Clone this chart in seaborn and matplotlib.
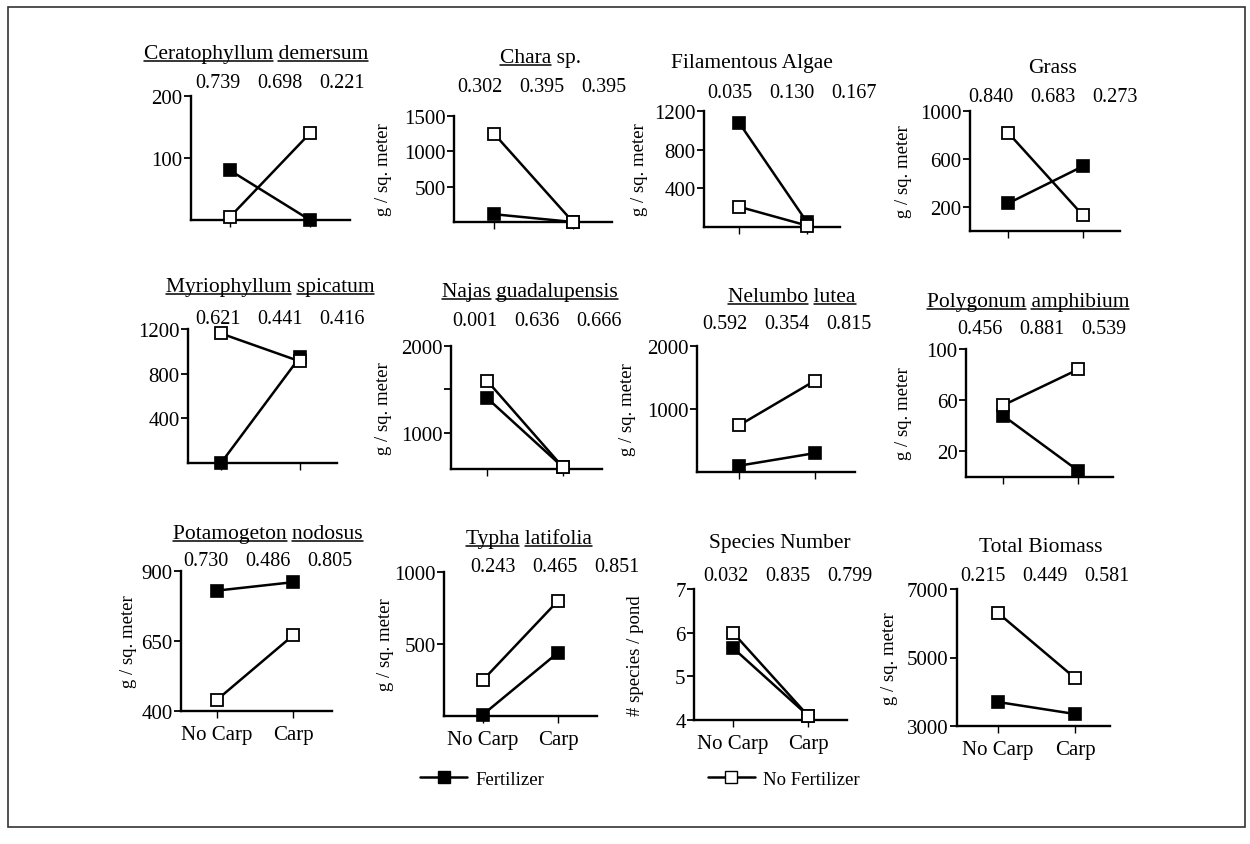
import matplotlib
matplotlib.use("Agg")
import matplotlib.pyplot as plt
import numpy as np
import pandas as pd
import seaborn as sns
from matplotlib.lines import Line2D
from matplotlib.patches import Rectangle

sns.set_theme(style="ticks")
plt.rcParams['font.family'] = ['Liberation Serif', 'DejaVu Serif']
plt.rcParams['text.color'] = 'black'
plt.rcParams['axes.labelcolor'] = 'black'

W, H = 1250, 845

# data
carp = ["No Carp", "Carp"]
titles = ["Ceratophyllum demersum", "Chara sp.", "Filamentous Algae", "Grass",
          "Myriophyllum spicatum", "Najas guadalupensis", "Nelumbo lutea", "Polygonum amphibium",
          "Potamogeton nodosus", "Typha latifolia", "Species Number", "Total Biomass"]
underlined = [["Ceratophyllum", "demersum"], ["Chara"], [], [],
              ["Myriophyllum", "spicatum"], ["Najas", "guadalupensis"], ["Nelumbo", "lutea"],
              ["Polygonum", "amphibium"], ["Potamogeton", "nodosus"], ["Typha", "latifolia"], [], []]
p_values = [["0.739", "0.698", "0.221"], ["0.302", "0.395", "0.395"], ["0.035", "0.130", "0.167"],
            ["0.840", "0.683", "0.273"], ["0.621", "0.441", "0.416"], ["0.001", "0.636", "0.666"],
            ["0.592", "0.354", "0.815"], ["0.456", "0.881", "0.539"], ["0.730", "0.486", "0.805"],
            ["0.243", "0.465", "0.851"], ["0.032", "0.835", "0.799"], ["0.215", "0.449", "0.581"]]
fertilizer = [[80, 0], [110, 0], [1080, 50], [230, 540],
              [0, 950], [1400, 600], [100, 300], [48, 5],
              [830, 860], [10, 440], [5.65, 4.1], [3700, 3350]]
no_fertilizer = [[5, 140], [1250, 0], [210, 15], [820, 130],
                 [1160, 910], [1600, 600], [740, 1450], [56, 84],
                 [440, 670], [250, 800], [6.0, 4.1], [6300, 4400]]
y_labels = [None, "g / sq. meter", "g / sq. meter", "g / sq. meter",
            None, "g / sq. meter", "g / sq. meter", "g / sq. meter",
            "g / sq. meter", "g / sq. meter", "# species / pond", "g / sq. meter"]
y_limits = [(0, 200), (0, 1500), (0, 1200), (0, 1000),
            (0, 1200), (580, 2000), (0, 2000), (0, 100),
            (400, 900), (0, 1000), (4, 7), (3000, 7000)]
y_ticks = [[100, 200], [500, 1000, 1500], [400, 800, 1200], [200, 600, 1000],
           [400, 800, 1200], [1000, 1500, 2000], [1000, 2000], [20, 60, 100],
           [400, 650, 900], [500, 1000], [4, 5, 6, 7], [3000, 5000, 7000]]
y_ticklabels = [["100", "200"], ["500", "1000", "1500"], ["400", "800", "1200"], ["200", "600", "1000"],
                ["400", "800", "1200"], ["1000", "", "2000"], ["1000", "2000"], ["20", "60", "100"],
                ["400", "650", "900"], ["500", "1000"], ["4", "5", "6", "7"], ["3000", "5000", "7000"]]

# layout in pixels: axis left, axis right, axis top, axis bottom, x of "No Carp", x of "Carp",
# title centre x / y, middle p-value centre x / y, y label centre x
layout = [
    (191, 350, 97, 221, 230, 310, 256, 52, 280, 83, None),
    (454, 612, 117, 223, 494, 573, 540, 56, 542, 87, 383),
    (704, 840, 112, 228, 739, 807, 752, 61, 792, 93, 640),
    (970, 1120, 112, 232, 1008, 1083, 1053, 66, 1053, 98, 903),
    (188, 337, 330, 464, 221, 300, 270, 285, 280, 320, None),
    (451, 602, 347, 470, 487, 563, 530, 290, 537, 321, 383),
    (697, 855, 347, 473, 739, 815, 792, 295, 787, 325, 628),
    (966, 1113, 350, 478, 1003, 1078, 1028, 300, 1042, 330, 903),
    (181, 332, 572, 712, 217, 293, 268, 532, 268, 562, 128),
    (444, 597, 573, 717, 483, 558, 529, 537, 555, 567, 385),
    (694, 847, 590, 721, 733, 808, 780, 541, 788, 577, 635),
    (957, 1110, 590, 727, 998, 1075, 1041, 545, 1045, 577, 890),
]

fig = plt.figure(figsize=(12.5, 8.45), dpi=100)
fig.patch.set_facecolor("white")
renderer = fig.canvas.get_renderer()


def text_width(s, size):
    t = fig.text(0, 0, s, fontsize=size)
    w = t.get_window_extent(renderer).width
    t.remove()
    return w


def draw_title(text, marks, x, y, size=15.5):
    base = y + 7
    t = fig.text(x / W, 1 - base / H, text, ha="center", va="baseline", fontsize=size, color="black")
    bb = t.get_window_extent(renderer)
    words = text.split(" ")
    for k, w in enumerate(words):
        if w not in marks:
            continue
        x1 = bb.x0 + text_width(" ".join(words[:k + 1]), size)
        x0 = x1 - text_width(w, size)
        yl = 1 - (base + 3) / H
        fig.add_artist(Line2D([x0 / W, x1 / W], [yl, yl], transform=fig.transFigure,
                              color="black", lw=1.1))


for i in range(12):
    left, right, top, bottom, xa, xb, tx, ty, px, py, lx = layout[i]
    ax = fig.add_axes([left / W, 1 - bottom / H, (right - left) / W, (bottom - top) / H])
    ax.set_facecolor("white")

    sns.lineplot(x=carp, y=fertilizer[i], ax=ax, color="black", marker="s", markersize=9,
                 markerfacecolor="black", markeredgecolor="black", markeredgewidth=1.2,
                 lw=1.8, clip_on=False, zorder=3)
    sns.lineplot(x=carp, y=no_fertilizer[i], ax=ax, color="black", marker="s", markersize=9,
                 markerfacecolor="white", markeredgecolor="black", markeredgewidth=1.3,
                 lw=1.8, clip_on=False, zorder=4)

    span = xb - xa
    ax.set_xlim(-(xa - left) / span, 1 + (right - xb) / span)
    ax.set_ylim(*y_limits[i])
    ax.set_xticks([0, 1])
    if i >= 8:
        ax.set_xticklabels(carp)
    else:
        ax.set_xticklabels(["", ""])
    ax.set_yticks(y_ticks[i])
    ax.set_yticklabels(y_ticklabels[i])

    sns.despine(ax=ax)
    for s in ["left", "bottom"]:
        ax.spines[s].set_linewidth(1.7)
        ax.spines[s].set_color("black")
    ax.tick_params(axis="y", direction="out", length=5, width=1.3, pad=1,
                   labelsize=15, colors="black")
    ax.tick_params(axis="x", direction="out", length=5, width=1.0, pad=5,
                   labelsize=15, colors="black")
    ax.grid(False)

    if y_labels[i]:
        ax.set_ylabel(y_labels[i], fontsize=13.5, color="black", va="center")
        ax.yaxis.set_label_coords((lx - left) / (right - left), 0.5)
    else:
        ax.set_ylabel("")
    ax.set_xlabel("")

    draw_title(titles[i], underlined[i], tx, ty)
    for k, pv in enumerate(p_values[i]):
        fig.text((px + (k - 1) * 62) / W, 1 - py / H, pv, ha="center", va="center",
                 fontsize=14.5, color="black")

handles = [
    Line2D([], [], color="black", lw=1.8, marker="s", markersize=9,
           markerfacecolor="black", markeredgecolor="black"),
    Line2D([], [], color="black", lw=1.8, marker="s", markersize=9,
           markerfacecolor="white", markeredgecolor="black"),
]
leg = fig.legend(handles, ["Fertilizer", "No Fertilizer"], loc="center",
                 bbox_to_anchor=(640 / W, 1 - 780 / H), ncol=2, frameon=False,
                 handlelength=2.5, handletextpad=0.45, columnspacing=8.7, fontsize=13.5)
for t in leg.get_texts():
    t.set_color("black")

fig.add_artist(Rectangle((8 / W, 1 - 828 / H), (1245 - 8) / W, (828 - 8) / H,
                         transform=fig.transFigure, fill=False, lw=1.2, ec="#333333"))

fig.savefig("out.png", dpi=100, facecolor="white")
